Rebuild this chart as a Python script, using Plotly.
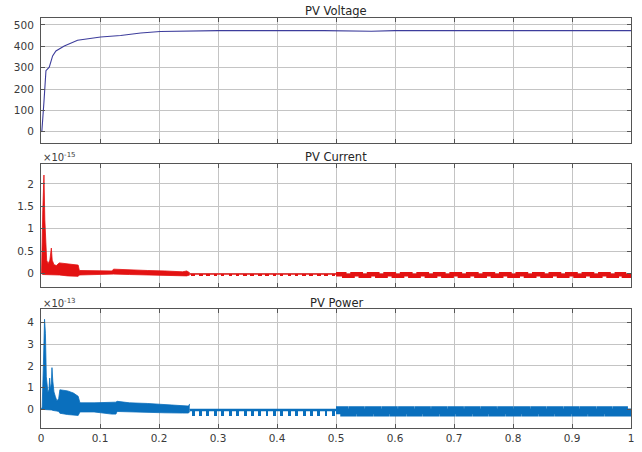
import plotly.graph_objects as go

# ---- PV voltage (V) ----
volt_t = [0, 0.0015, 0.005, 0.0084, 0.014, 0.0197, 0.0253, 0.0394, 0.062, 0.101,
          0.135, 0.169, 0.202, 0.25, 0.30, 0.48, 0.52, 0.56, 0.60, 0.70, 1.0]
volt_v = [0, 5, 140, 286, 302, 355, 378, 401, 428, 443,
          450, 462, 469, 472, 473, 473, 471, 470, 473, 473, 473]

# ---- PV current (x1e-15 A): envelope of the fast ripple, 0 - 0.25 s ----
cur_env_t = [0, 0.001, 0.003, 0.005, 0.0065, 0.0085, 0.0096, 0.012, 0.015, 0.0175,
             0.019, 0.022, 0.026, 0.031, 0.045, 0.058, 0.063, 0.065, 0.09, 0.12,
             0.123, 0.15, 0.18, 0.21, 0.24, 0.247, 0.252]
cur_env_hi = [0, 0.05, 1.4, 2.2, 1.2, 0.6, 0.3, 0.22, 0.3, 0.57,
              0.3, 0.2, 0.18, 0.24, 0.22, 0.19, 0.19, 0.07, 0.06, 0.06,
              0.1, 0.08, 0.07, 0.06, 0.04, 0.06, 0.02]
cur_env_lo = [0, 0, -0.02, -0.02, -0.02, -0.02, -0.02, -0.02, -0.02, -0.02,
              -0.02, -0.02, -0.02, -0.03, -0.05, -0.06, -0.06, -0.03, -0.02, -0.02,
              -0.01, -0.02, -0.03, -0.04, -0.05, -0.05, -0.03]

# ---- PV power (x1e-13 W): envelope of the fast ripple, 0 - 0.25 s ----
pow_env_t = [0, 0.002, 0.004, 0.006, 0.0075, 0.009, 0.0118, 0.0135, 0.0147, 0.016,
             0.0175, 0.0186, 0.020, 0.022, 0.0242, 0.027, 0.030, 0.032, 0.045, 0.055,
             0.063, 0.066, 0.09, 0.12, 0.127, 0.129, 0.15, 0.18, 0.21, 0.24,
             0.25, 0.252]
pow_env_hi = [0, 0.1, 2.0, 4.15, 3.5, 1.5, 0.77, 0.9, 1.44, 0.9,
              1.2, 1.92, 1.3, 0.8, 0.6, 0.38, 0.5, 0.9, 0.85, 0.75,
              0.6, 0.3, 0.3, 0.3, 0.33, 0.37, 0.3, 0.27, 0.22, 0.2,
              0.15, 0.25]
pow_env_lo = [0, 0, -0.02, -0.02, -0.02, -0.02, -0.03, -0.03, -0.03, -0.03,
              -0.03, -0.03, -0.05, -0.05, -0.05, -0.08, -0.1, -0.18, -0.24, -0.27,
              -0.28, -0.12, -0.12, -0.22, -0.22, -0.1, -0.12, -0.14, -0.16, -0.17,
              -0.17, -0.1]

# ---- 0.25 - 0.5 s: flat level with periodic notches ----
notch_t = [0.258, 0.271, 0.283, 0.296, 0.308, 0.321, 0.333, 0.346, 0.358, 0.371,
           0.383, 0.396, 0.408, 0.421, 0.433, 0.446, 0.458, 0.471, 0.483, 0.496]
cur_flat_level = -0.01
cur_notch_top, cur_notch_bottom = -0.015, -0.055
pow_flat_level = -0.03
pow_notch_top, pow_notch_bottom = -0.05, -0.27

# ---- 0.5 - 1 s: square ripple ----
ripple_up_t = [0.500, 0.528, 0.556, 0.584, 0.612, 0.640, 0.668, 0.696, 0.724, 0.752,
               0.780, 0.808, 0.836, 0.864, 0.892, 0.920, 0.948, 0.976]
ripple_end_t = 1.0
cur_ripple_hi, cur_ripple_lo = -0.015, -0.045
pow_ripple_hi, pow_ripple_lo = -0.04, -0.15

RED = "#e31212"
BLUE = "#0a6fbd"
NAVY = "#3d3d9c"

FONT = "DejaVu Sans, Liberation Sans, Arial"


def ripple_path(up_t, end_t, hi, lo):
    xs, ys = [], []
    for i, t0 in enumerate(up_t):
        t1 = up_t[i + 1] if i + 1 < len(up_t) else end_t
        xs += [t0, (t0 + t1) / 2]
        ys += [hi, lo]
    xs.append(end_t)
    ys.append(lo)
    return xs, ys


fig = go.Figure()

# voltage
fig.add_trace(go.Scatter(x=volt_t, y=volt_v, mode="lines",
                         line=dict(color=NAVY, width=1.1), xaxis="x", yaxis="y"))


def add_signal(env_t, env_hi, env_lo, flat_level, flat_w, notch_top, notch_bottom,
               notch_w, rip_hi, rip_lo, rip_w, color, xa, ya):
    fig.add_trace(go.Scatter(x=env_t, y=env_lo, mode="lines",
                             line=dict(color=color, width=0.8), xaxis=xa, yaxis=ya))
    fig.add_trace(go.Scatter(x=env_t, y=env_hi, mode="lines", fill="tonexty",
                             fillcolor=color, line=dict(color=color, width=0.8),
                             xaxis=xa, yaxis=ya))
    fig.add_trace(go.Scatter(x=[env_t[-1], ripple_up_t[0]], y=[flat_level, flat_level],
                             mode="lines", line=dict(color=color, width=flat_w),
                             xaxis=xa, yaxis=ya))
    fig.add_trace(go.Bar(x=notch_t, y=[notch_bottom - notch_top] * len(notch_t),
                         base=notch_top, width=notch_w, marker=dict(color=color, line_width=0),
                         xaxis=xa, yaxis=ya))
    rx, ry = ripple_path(ripple_up_t, ripple_end_t, rip_hi, rip_lo)
    fig.add_trace(go.Scatter(x=rx, y=ry, mode="lines",
                             line=dict(color=color, width=rip_w, shape="hv"),
                             xaxis=xa, yaxis=ya))


add_signal(cur_env_t, cur_env_hi, cur_env_lo, cur_flat_level, 1.5,
           cur_notch_top, cur_notch_bottom, 0.006,
           cur_ripple_hi, cur_ripple_lo, 4.5, RED, "x2", "y2")
add_signal(pow_env_t, pow_env_hi, pow_env_lo, pow_flat_level, 2.5,
           pow_notch_top, pow_notch_bottom, 0.005,
           pow_ripple_hi, pow_ripple_lo, 8, BLUE, "x3", "y3")

x_ticks = [0, 0.1, 0.2, 0.3, 0.4, 0.5, 0.6, 0.7, 0.8, 0.9, 1]
x_labels = ["0", "0.1", "0.2", "0.3", "0.4", "0.5", "0.6", "0.7", "0.8", "0.9", "1"]

axis_common = dict(showline=True, linecolor="#555555", linewidth=1, mirror="ticks",
                   ticks="inside", ticklen=4, tickcolor="#555555",
                   showgrid=True, gridcolor="#c4c4c4", gridwidth=1, zeroline=False,
                   tickfont=dict(family=FONT, size=10.5, color="#3a3a3a"))

x_common = dict(axis_common, range=[0, 1], tickvals=x_ticks, ticktext=x_labels,
                domain=[0, 1])

fig.update_layout(
    width=642, height=452,
    margin=dict(l=41, r=8, t=18, b=15),
    paper_bgcolor="white", plot_bgcolor="white",
    showlegend=False, barmode="overlay", bargap=0,
    xaxis=dict(x_common, anchor="y", showticklabels=False),
    xaxis2=dict(x_common, anchor="y2", showticklabels=False),
    xaxis3=dict(x_common, anchor="y3", showticklabels=True),
    yaxis=dict(axis_common, domain=[0.6945, 1.0], range=[-53.5, 532],
               tickvals=[0, 100, 200, 300, 400, 500], anchor="x", ticklabelstandoff=4),
    yaxis2=dict(axis_common, domain=[0.3437, 0.6444], range=[-0.3, 2.45],
                tickvals=[0, 0.5, 1, 1.5, 2], ticktext=["0", "0.5", "1", "1.5", "2"],
                anchor="x2", ticklabelstandoff=4),
    yaxis3=dict(axis_common, domain=[0, 0.2912], range=[-0.86, 4.64],
                tickvals=[0, 1, 2, 3, 4], anchor="x3", ticklabelstandoff=4),
)

title_font = dict(family=FONT, size=11.5, color="#262626")
exp_font = dict(family=FONT, size=10, color="#3a3a3a")
for text, ypix in [("PV Voltage", 11), ("PV Current", 160.5), ("PV Power", 309)]:
    fig.add_annotation(text=text, x=0.5, xref="paper", y=(437 - ypix) / 419, yref="paper",
                       showarrow=False, font=title_font, xanchor="center", yanchor="middle")
for text, ypix in [("×10<sup>-15</sup>", 160), ("×10<sup>-13</sup>", 309)]:
    fig.add_annotation(text=text, x=0.0, xref="paper", y=(437 - ypix) / 419, yref="paper",
                       showarrow=False, font=exp_font, xanchor="left", yanchor="middle")

fig.write_html("out.html")
